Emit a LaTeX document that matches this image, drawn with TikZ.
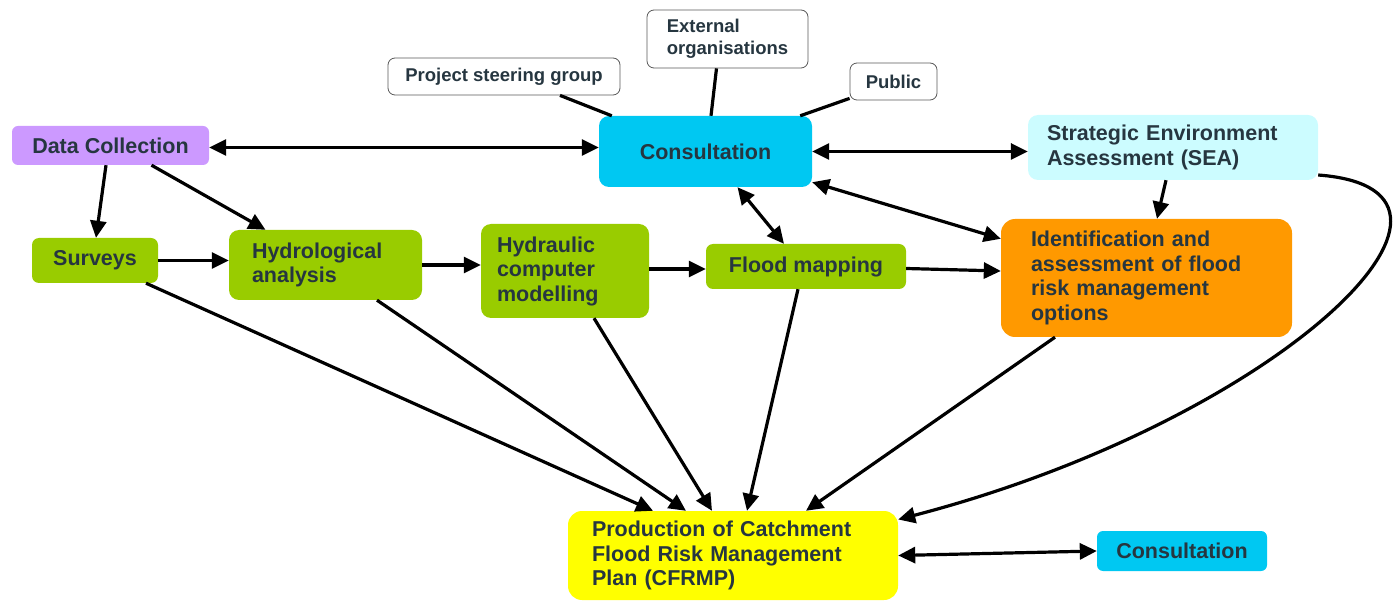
\documentclass[tikz,border=0pt]{standalone}
\usepackage{fontspec}
\setmainfont{Liberation Sans}
\usetikzlibrary{arrows.meta}
\definecolor{txt}{HTML}{263640}
\definecolor{consC}{HTML}{00C8F2}
\definecolor{dataC}{HTML}{CC99FF}
\definecolor{seaC}{HTML}{CCFCFF}
\definecolor{greenC}{HTML}{99CC00}
\definecolor{orangeC}{HTML}{FF9900}
\definecolor{yellowC}{HTML}{FFFF00}
\begin{document}
\begin{tikzpicture}[x=1pt,y=-1pt,
  box/.style={rounded corners=10pt, text=txt, font=\bfseries\fontsize{21.5}{24.5}\selectfont, inner ysep=0pt},
  small/.style={draw=gray!70!black, line width=0.8pt, fill=white, rounded corners=7pt, text=txt, font=\bfseries\fontsize{18.5}{22}\selectfont, inner ysep=0pt},
  con/.style={line width=3.2pt, -{Triangle[length=17pt,width=16pt]}},
  dcon/.style={line width=3.2pt, {Triangle[length=17pt,width=16pt]}-{Triangle[length=17pt,width=16pt]}},
  link/.style={line width=3.2pt}]
\useasboundingbox (0,0) rectangle (1400,601);

% small boxes
\node[small, minimum width=232pt, minimum height=37pt] (psg) at (504,76.5) {Project steering group};
\node[small, minimum width=161pt, minimum height=58pt, align=left] (ext) at (727.5,39) {External\\organisations};
\node[small, minimum width=87pt, minimum height=37pt] (pub) at (893.5,81.5) {Public};

% main boxes
\node[box, fill=consC, minimum width=213pt, minimum height=71pt] (cons) at (705.5,151.5) {Consultation};
\node[box, fill=dataC, minimum width=197pt, minimum height=39pt, rounded corners=6pt] (data) at (110.5,145.5) {Data Collection};
\node[box, fill=seaC, text width=252pt, inner xsep=19pt, minimum height=65pt, align=left] (sea) at (1173,147.5) {Strategic Environment\\Assessment (SEA)};
\node[box, fill=greenC, minimum width=126pt, minimum height=45pt, rounded corners=7pt] (surv) at (95,260.5) {Surveys};
\node[box, fill=greenC, text width=147pt, inner xsep=23pt, minimum height=70pt, align=left] (hydro) at (325.5,265) {Hydrological\\analysis};
\node[box, fill=greenC, text width=136pt, inner xsep=16pt, minimum height=94pt, align=left] (hydr) at (565,271) {Hydraulic\\computer\\modelling};
\node[box, fill=greenC, minimum width=200pt, minimum height=45pt, rounded corners=7pt] (flood) at (806,266.5) {Flood mapping};
\node[box, fill=orangeC, text width=231pt, inner xsep=30pt, minimum height=118pt, align=left, rounded corners=14pt] (ident) at (1146.5,278) {Identification and\\assessment of flood\\risk management\\options};
\node[box, fill=yellowC, text width=282pt, inner xsep=24pt, minimum height=89pt, align=left, rounded corners=14pt] (cfrmp) at (733,555.5) {Production of Catchment\\Flood Risk Management\\Plan (CFRMP)};
\node[box, fill=consC, minimum width=170pt, minimum height=40pt, rounded corners=6pt] (cons2) at (1182,551) {Consultation};

% links to consultation
\draw[link] ([xshift=56pt]psg.south) -- ([xshift=13pt]cons.north west);
\draw[link] ([xshift=-11pt]ext.south) -- ([xshift=5.5pt]cons.north);
\draw[link] ([yshift=2pt]pub.south west) -- ([xshift=-12pt]cons.north east);

% double arrows
\draw[dcon] ([yshift=-2pt]data.east) -- ([yshift=-2pt]data.east -| cons.west);
\draw[dcon] (cons.east) -- (cons.east -| sea.west);
\draw[dcon] ([xshift=32pt]cons.south) -- ([xshift=-22pt]flood.north);
\draw[dcon] ([yshift=5pt]cons.south east) -- ([yshift=-20pt]ident.north west);
\draw[dcon] (cfrmp.east) -- (cons2.west);

% single arrows
\draw[con] ([xshift=-4.5pt]data.south) -- ([xshift=1pt]surv.north);
\draw[con] ([xshift=41pt]data.south) -- ([xshift=-60pt]hydro.north);
\draw[con] (surv.east) -- (surv.east -| hydro.west);
\draw[con] (hydro.east) -- (hydro.east -| hydr.west);
\draw[con] ([yshift=2pt]hydr.east) -- ([yshift=2pt]hydr.east -| flood.west);
\draw[con] ([yshift=-2pt]flood.east) -- ([yshift=7pt]ident.west);
\draw[con] ([xshift=-7pt]sea.south) -- ([xshift=10.5pt]ident.north);

\draw[con] ([xshift=51pt]surv.south) -- ([xshift=-80pt]cfrmp.north);
\draw[con] ([xshift=51.5pt]hydro.south) -- ([xshift=-47pt]cfrmp.north);
\draw[con] ([xshift=29pt]hydr.south) -- ([xshift=-21pt]cfrmp.north);
\draw[con] ([xshift=-8pt]flood.south) -- ([xshift=14pt]cfrmp.north);
\draw[con] ([xshift=-91.5pt]ident.south) -- ([xshift=73pt]cfrmp.north);

\draw[con] ([yshift=-27.5pt]sea.east) .. controls +(200,15) and +(380,-99) .. ([yshift=36pt]cfrmp.east);
\end{tikzpicture}
\end{document}
